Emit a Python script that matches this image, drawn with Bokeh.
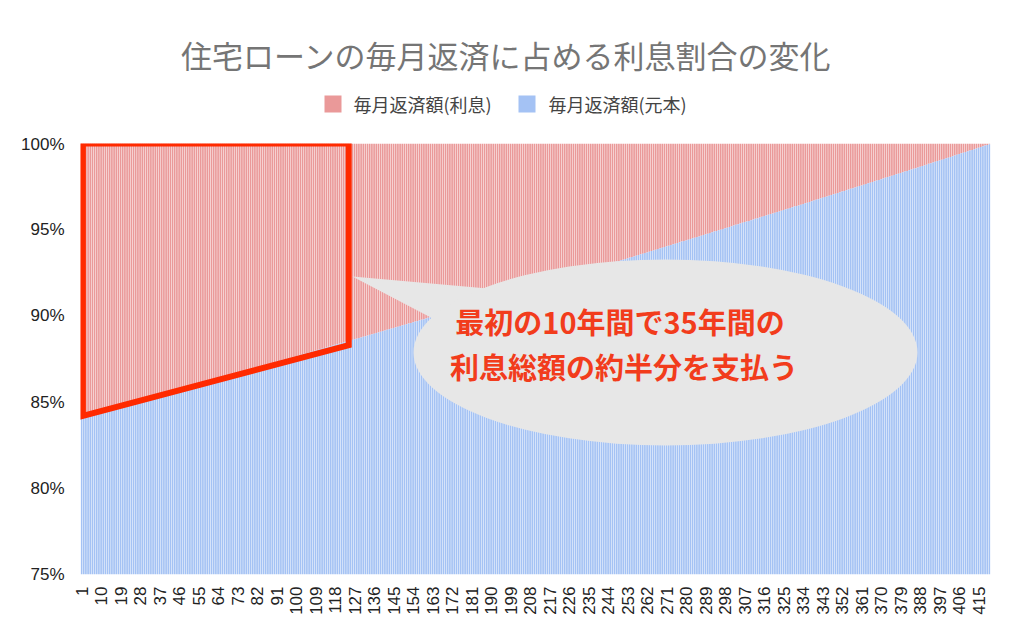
import math
from bokeh.plotting import figure
from bokeh.layouts import column
from bokeh.models import Range1d, FixedTicker, ColumnDataSource
from bokeh.core.properties import value
from bokeh.embed import file_html
from bokeh.resources import INLINE

# ---------------- data ----------------
title_text = "住宅ローンの毎月返済に占める利息割合の変化"
series_names = ["毎月返済額(利息)", "毎月返済額(元本)"]
series_colors = ["#ea9999", "#a4c2f4"]

# share of principal in each monthly payment (%), months 1..420
principal_pct = [
    84.18, 84.22, 84.25, 84.29, 84.32, 84.36, 84.39, 84.43, 84.46, 84.50, 84.53, 84.57,
    84.60, 84.63, 84.67, 84.70, 84.74, 84.77, 84.81, 84.84, 84.87, 84.91, 84.94, 84.98,
    85.01, 85.05, 85.08, 85.12, 85.15, 85.19, 85.22, 85.26, 85.29, 85.33, 85.36, 85.40,
    85.43, 85.47, 85.50, 85.54, 85.57, 85.61, 85.64, 85.68, 85.71, 85.75, 85.78, 85.82,
    85.85, 85.89, 85.92, 85.96, 85.99, 86.03, 86.06, 86.10, 86.14, 86.17, 86.21, 86.24,
    86.28, 86.32, 86.35, 86.39, 86.42, 86.46, 86.49, 86.53, 86.56, 86.60, 86.63, 86.67,
    86.70, 86.74, 86.77, 86.81, 86.84, 86.88, 86.92, 86.95, 86.99, 87.02, 87.06, 87.09,
    87.13, 87.17, 87.20, 87.24, 87.27, 87.31, 87.35, 87.38, 87.42, 87.45, 87.49, 87.52,
    87.56, 87.60, 87.63, 87.67, 87.70, 87.74, 87.78, 87.81, 87.85, 87.88, 87.92, 87.95,
    87.99, 88.03, 88.06, 88.10, 88.14, 88.17, 88.21, 88.25, 88.28, 88.32, 88.36, 88.39,
    88.43, 88.47, 88.50, 88.54, 88.57, 88.61, 88.65, 88.68, 88.72, 88.75, 88.79, 88.82,
    88.86, 88.90, 88.93, 88.97, 89.01, 89.04, 89.08, 89.12, 89.15, 89.19, 89.23, 89.26,
    89.30, 89.34, 89.37, 89.41, 89.45, 89.48, 89.52, 89.56, 89.59, 89.63, 89.67, 89.70,
    89.74, 89.78, 89.81, 89.85, 89.89, 89.92, 89.96, 90.00, 90.03, 90.07, 90.11, 90.14,
    90.18, 90.22, 90.25, 90.29, 90.33, 90.37, 90.40, 90.44, 90.48, 90.52, 90.55, 90.59,
    90.63, 90.67, 90.70, 90.74, 90.78, 90.82, 90.85, 90.89, 90.93, 90.97, 91.00, 91.04,
    91.08, 91.12, 91.15, 91.19, 91.23, 91.26, 91.30, 91.34, 91.37, 91.41, 91.45, 91.48,
    91.52, 91.56, 91.60, 91.63, 91.67, 91.71, 91.75, 91.79, 91.83, 91.86, 91.90, 91.94,
    91.98, 92.02, 92.05, 92.09, 92.13, 92.17, 92.20, 92.24, 92.28, 92.32, 92.35, 92.39,
    92.43, 92.47, 92.51, 92.54, 92.58, 92.62, 92.66, 92.70, 92.74, 92.77, 92.81, 92.85,
    92.89, 92.93, 92.96, 93.00, 93.04, 93.08, 93.11, 93.15, 93.19, 93.23, 93.26, 93.30,
    93.34, 93.38, 93.42, 93.45, 93.49, 93.53, 93.57, 93.61, 93.65, 93.68, 93.72, 93.76,
    93.80, 93.84, 93.88, 93.92, 93.96, 94.00, 94.04, 94.07, 94.11, 94.15, 94.19, 94.23,
    94.27, 94.31, 94.35, 94.38, 94.42, 94.46, 94.50, 94.54, 94.58, 94.61, 94.65, 94.69,
    94.73, 94.77, 94.81, 94.85, 94.89, 94.93, 94.97, 95.00, 95.04, 95.08, 95.12, 95.16,
    95.20, 95.24, 95.28, 95.32, 95.36, 95.40, 95.44, 95.47, 95.51, 95.55, 95.59, 95.63,
    95.67, 95.71, 95.75, 95.79, 95.83, 95.87, 95.91, 95.94, 95.98, 96.02, 96.06, 96.10,
    96.14, 96.18, 96.22, 96.26, 96.30, 96.34, 96.38, 96.41, 96.45, 96.49, 96.53, 96.57,
    96.61, 96.65, 96.69, 96.73, 96.77, 96.81, 96.85, 96.89, 96.93, 96.97, 97.01, 97.05,
    97.09, 97.13, 97.17, 97.21, 97.25, 97.29, 97.33, 97.37, 97.41, 97.45, 97.49, 97.53,
    97.57, 97.61, 97.65, 97.69, 97.73, 97.77, 97.81, 97.85, 97.89, 97.93, 97.97, 98.01,
    98.05, 98.09, 98.13, 98.17, 98.21, 98.25, 98.29, 98.33, 98.37, 98.41, 98.45, 98.49,
    98.53, 98.57, 98.61, 98.65, 98.69, 98.73, 98.77, 98.82, 98.86, 98.90, 98.94, 98.98,
    99.02, 99.06, 99.10, 99.14, 99.18, 99.22, 99.26, 99.31, 99.35, 99.39, 99.43, 99.47,
    99.51, 99.55, 99.59, 99.63, 99.67, 99.71, 99.76, 99.80, 99.84, 99.88, 99.92, 99.96,
]
months = list(range(1, len(principal_pct) + 1))
interest_top = [100.0] * len(months)

x_tick_values = list(range(1, 421, 9))
x_tick_labels = [str(v) for v in x_tick_values]
y_tick_values = [75, 80, 85, 90, 95, 100]
y_tick_labels = ["75%", "80%", "85%", "90%", "95%", "100%"]

# annotation (highlighted first ~10 years) and callout
highlight_x = [1.6, 124.3]
highlight_floor = [84.2, 88.3]
callout_lines = ["最初の10年間で35年間の", "利息総額の約半分を支払う"]

CJK = "Noto Sans CJK JP"
BL, BR = 80, 34

# ---------------- header (title + legend) ----------------
HEAD_H = 134
head = figure(width=1024, height=HEAD_H, output_backend="svg", toolbar_location=None,
              x_range=Range1d(BL, 1024 - BR), y_range=Range1d(HEAD_H, 0),
              x_axis_type=None, y_axis_type=None,
              min_border_left=BL, min_border_right=BR, min_border_top=0,
              min_border_bottom=0,
              background_fill_color="white", border_fill_color="white")
head.outline_line_color = None
head.grid.visible = False
head.text(x=[506], y=[54], text=[title_text], text_align="center",
          text_baseline="middle", text_font=value(CJK), text_font_size="31px",
          text_color="#757575")
head.rect(x=[332.5, 526.5], y=[103.5, 103.5], width=17, height=17,
          fill_color=series_colors, line_color=None)
head.text(x=[353, 548], y=[103, 103], text=series_names, text_align="left",
          text_baseline="middle", text_font=value(CJK), text_font_size="18px",
          text_color="#444444")

# ---------------- main chart ----------------
p = figure(width=1024, height=635 - HEAD_H, output_backend="svg", toolbar_location=None,
           x_range=Range1d(0.5, 420.5), y_range=Range1d(75, 100),
           min_border_left=BL, min_border_right=BR, min_border_top=9,
           min_border_bottom=61, background_fill_color="white",
           border_fill_color="white")
p.outline_line_color = None
p.xgrid.grid_line_color = None
p.ygrid.grid_line_color = None

src = ColumnDataSource(dict(m=months, pr=principal_pct, top=interest_top))
p.vbar(x="m", bottom="pr", top="top", width=0.78, source=src,
       fill_color=series_colors[0], line_color=None)
p.vbar(x="m", bottom=0, top="pr", width=0.78, source=src,
       fill_color=series_colors[1], line_color=None)

# axes
p.xaxis.ticker = FixedTicker(ticks=x_tick_values)
p.xaxis.major_label_overrides = {v: l for v, l in zip(x_tick_values, x_tick_labels)}
p.xaxis.major_label_orientation = math.pi / 2
p.yaxis.ticker = FixedTicker(ticks=y_tick_values)
p.yaxis.major_label_overrides = {v: l for v, l in zip(y_tick_values, y_tick_labels)}
for ax in (p.xaxis[0], p.yaxis[0]):
    ax.axis_line_color = None
    ax.major_tick_line_color = None
    ax.minor_tick_line_color = None
    ax.major_label_text_font = "Liberation Sans"
    ax.major_label_text_font_size = "17px"
    ax.major_label_text_color = "#222222"
p.xaxis.major_label_standoff = 6
p.yaxis.major_label_standoff = 10

# callout bubble (tail + ellipse)
p.patch(x=[126.0, 199.0, 166.6], y=[92.29, 91.47, 89.62],
        fill_color="#e7e7e7", line_color=None)
p.ellipse(x=270.5, y=87.88, width=504, height=186, width_units="screen",
          height_units="screen", fill_color="#e7e7e7", line_color=None)

# red highlight polygon
p.patch(x=[highlight_x[0], highlight_x[0], highlight_x[1], highlight_x[1]],
        y=[highlight_floor[0], 100, 100, highlight_floor[1]],
        fill_color=None, line_color="#ff2a00", line_width=6, line_join="miter")

# callout text
p.text(x=[249.5, 251.3], y=[89.72, 87.11], text=callout_lines,
       text_align="center", text_baseline="middle", text_font=value(CJK),
       text_font_style="bold", text_font_size="29px", text_color="#f23c1c")

open("out.html", "w").write(file_html(column(head, p, spacing=0), INLINE))
